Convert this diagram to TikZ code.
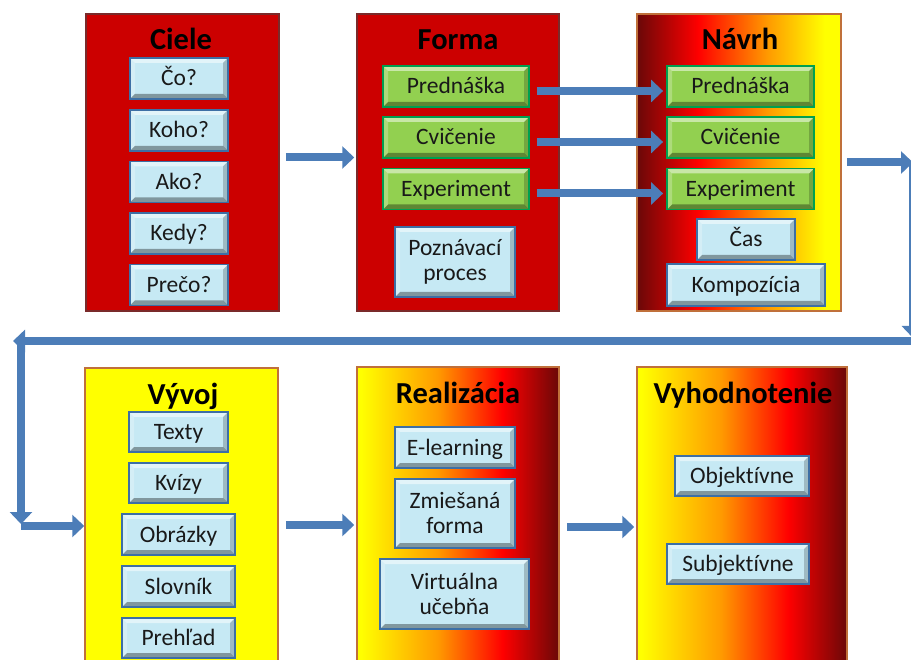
\documentclass[tikz,border=0pt]{standalone}
\usepackage{fontspec}
\setmainfont[Ligatures=NoCommon]{Carlito}
\usetikzlibrary{arrows.meta,calc}
\definecolor{panelred}{HTML}{CC0000}
\definecolor{panelborder}{HTML}{7A2A2A}
\definecolor{gradborder}{HTML}{C0703A}
\definecolor{dkred}{HTML}{6A0808}
\definecolor{brred}{HTML}{FF0000}
\definecolor{orng}{HTML}{FF9A00}
\definecolor{yel}{HTML}{FFFF00}
\definecolor{boxblue}{HTML}{C6E9F4}
\definecolor{boxblueb}{HTML}{3D6FA5}
\definecolor{boxgreen}{HTML}{92D050}
\definecolor{boxgreenb}{HTML}{00A050}
\definecolor{arrowblue}{HTML}{4C7DB8}
\pgfdeclarehorizontalshading{navrhsh}{100bp}{color(0bp)=(dkred); color(25bp)=(dkred); color(40bp)=(brred); color(57bp)=(orng); color(71bp)=(yel); color(100bp)=(yel)}
\pgfdeclarehorizontalshading{realsh}{100bp}{color(0bp)=(yel); color(26bp)=(yel); color(45bp)=(orng); color(61bp)=(brred); color(75bp)=(dkred); color(100bp)=(dkred)}
\tikzset{
  bevel/.style={path picture={
    \coordinate (NW) at (path picture bounding box.north west);
    \coordinate (NE) at (path picture bounding box.north east);
    \coordinate (SW) at (path picture bounding box.south west);
    \coordinate (SE) at (path picture bounding box.south east);
    \fill[white,opacity=0.5] (NW) -- (NE) -- ([xshift=-5pt,yshift=-5pt]NE) -- ([xshift=5pt,yshift=-5pt]NW) -- cycle;
    \fill[white,opacity=0.25] (NW) -- (SW) -- ([xshift=5pt,yshift=5pt]SW) -- ([xshift=5pt,yshift=-5pt]NW) -- cycle;
    \fill[black,opacity=0.35] (SW) -- (SE) -- ([xshift=-5pt,yshift=5pt]SE) -- ([xshift=5pt,yshift=5pt]SW) -- cycle;
    \fill[black,opacity=0.2] (NE) -- (SE) -- ([xshift=-5pt,yshift=5pt]SE) -- ([xshift=-5pt,yshift=-5pt]NE) -- cycle;
  }},
  panel/.style={draw=panelborder, line width=1.5pt, rectangle, inner sep=0pt},
  title/.style={anchor=base, font=\fontsize{30.5}{33}\selectfont\bfseries},
  bbox/.style={rectangle, inner sep=0pt, fill=boxblue, draw=boxblueb, line width=1.8pt, bevel,
    font=\fontsize{23.5}{25}\selectfont, text=black!90, align=center},
  one/.style={text height=20pt, text depth=5pt},
  gbox/.style={bbox, fill=boxgreen, draw=boxgreenb, one},
  barrow/.style={line width=8pt, draw=arrowblue, -{Triangle[width=22pt,length=12pt]}},
}
\begin{document}
\begin{tikzpicture}[x=1pt,y=-1pt]
\useasboundingbox (0,0) rectangle (911,660);
% panels
\node[panel, fill=panelred, minimum width=193pt, minimum height=297pt] (ciele) at (182.5,162.5) {};
\node[panel, fill=panelred, minimum width=202pt, minimum height=297pt] (forma) at (458,162.5) {};
\node[panel, shading=navrhsh, draw=gradborder, minimum width=204pt, minimum height=297pt] (navrh) at (739,162.5) {};
\node[panel, fill=yel, draw=gradborder, minimum width=193pt, minimum height=297pt] (vyvoj) at (181.5,516.5) {};
\node[panel, shading=realsh, draw=gradborder, minimum width=202pt, minimum height=298pt] (real) at (458,516) {};
\node[panel, shading=realsh, draw=gradborder, minimum width=210pt, minimum height=298pt] (vyh) at (742,516) {};
% titles
\node[title] (tciele) at (181,50) {Ciele};
\node[title] (tforma) at (458,50) {Forma};
\node[title] (tnavrh) at (740,50) {Návrh};
\node[title] (tvyvoj) at (183,405) {Vývoj};
\node[title] (treal) at (458,404) {Realizácia};
\node[title] (tvyh) at (743,404) {Vyhodnotenie};
% Ciele
\node[bbox, one, minimum width=98pt, minimum height=41pt] (co) at (179,78.5) {Čo?};
\node[bbox, one, minimum width=98pt, minimum height=41pt] (koho) at (179,130.5) {Koho?};
\node[bbox, one, minimum width=98pt, minimum height=41pt] (ako) at (179,182) {Ako?};
\node[bbox, one, minimum width=98pt, minimum height=41pt] (kedy) at (179,233.5) {Kedy?};
\node[bbox, one, minimum width=98pt, minimum height=41pt] (preco) at (179,285) {Prečo?};
% Forma
\node[gbox, minimum width=146pt, minimum height=41pt] (fpred) at (456,86.5) {Prednáška};
\node[gbox, minimum width=146pt, minimum height=41pt] (fcvic) at (456,137.5) {Cvičenie};
\node[gbox, minimum width=146pt, minimum height=41pt] (fexp) at (456,189) {Experiment};
\node[bbox, minimum width=120pt, minimum height=70pt] (pozn) at (455,262) {Poznávací\\proces};
% Navrh
\node[gbox, minimum width=147pt, minimum height=41pt] (npred) at (740.5,86.5) {Prednáška};
\node[gbox, minimum width=147pt, minimum height=41pt] (ncvic) at (740.5,137.5) {Cvičenie};
\node[gbox, minimum width=147pt, minimum height=41pt] (nexp) at (740.5,189) {Experiment};
\node[bbox, one, minimum width=98pt, minimum height=41pt] (cas) at (746,239.5) {Čas};
\node[bbox, one, minimum width=158pt, minimum height=42pt] (komp) at (746,285) {Kompozícia};
% Vyvoj
\node[bbox, one, minimum width=99pt, minimum height=40pt] (texty) at (178.5,432) {Texty};
\node[bbox, one, minimum width=99pt, minimum height=40pt] (kvizy) at (178.5,483) {Kvízy};
\node[bbox, one, minimum width=113pt, minimum height=41pt] (obr) at (178.5,534.5) {Obrázky};
\node[bbox, one, minimum width=113pt, minimum height=41pt] (slov) at (178.5,586.5) {Slovník};
\node[bbox, one, minimum width=113pt, minimum height=40pt] (preh) at (178.5,638) {Prehľad};
% Realizacia
\node[bbox, one, minimum width=120pt, minimum height=41pt] (elearn) at (455,447.5) {E-learning};
\node[bbox, minimum width=120pt, minimum height=69pt] (zmies) at (455,513.5) {Zmiešaná\\forma};
\node[bbox, minimum width=149pt, minimum height=70pt] (virt) at (454.5,594) {Virtuálna\\učebňa};
% Vyhodnotenie
\node[bbox, one, minimum width=134pt, minimum height=40pt] (obj) at (742,476) {Objektívne};
\node[bbox, one, minimum width=142pt, minimum height=40pt] (subj) at (738,564) {Subjektívne};
% arrows
\draw[barrow] ([xshift=6pt,yshift=5pt]ciele.east) -- ([xshift=-2pt,yshift=5pt]forma.west);
\draw[barrow] ([xshift=7pt,yshift=-4.5pt]fpred.east) -- ([xshift=-3pt,yshift=-4.5pt]npred.west);
\draw[barrow] ([xshift=7pt,yshift=-4.5pt]fcvic.east) -- ([xshift=-3pt,yshift=-4.5pt]ncvic.west);
\draw[barrow] ([xshift=7pt,yshift=-4.5pt]fexp.east) -- ([xshift=-3pt,yshift=-4.5pt]nexp.west);
\coordinate (r1) at (913,162.5);
\coordinate (r2) at (913,338);
\coordinate (r3) at (913,341);
\coordinate (l1) at (13,341);
\coordinate (l2) at (21,341);
\coordinate (l3) at (21,524);
\coordinate (l4) at (21,526);
\draw[barrow] ([xshift=5pt]navrh.east) -- (r1);
\draw[barrow] (r1) -- (r2);
\draw[barrow] (r3) -- (l1);
\draw[barrow] (l2) -- (l3);
\draw[barrow] (l4) -- (vyvoj.west |- l4);
\draw[barrow] ([xshift=7pt]vyvoj.east |- 0,525) -- ([xshift=-2pt]real.west |- 0,525);
\draw[barrow] ([xshift=7pt]real.east |- 0,527) -- ([xshift=-2pt]vyh.west |- 0,527);
\end{tikzpicture}
\end{document}
